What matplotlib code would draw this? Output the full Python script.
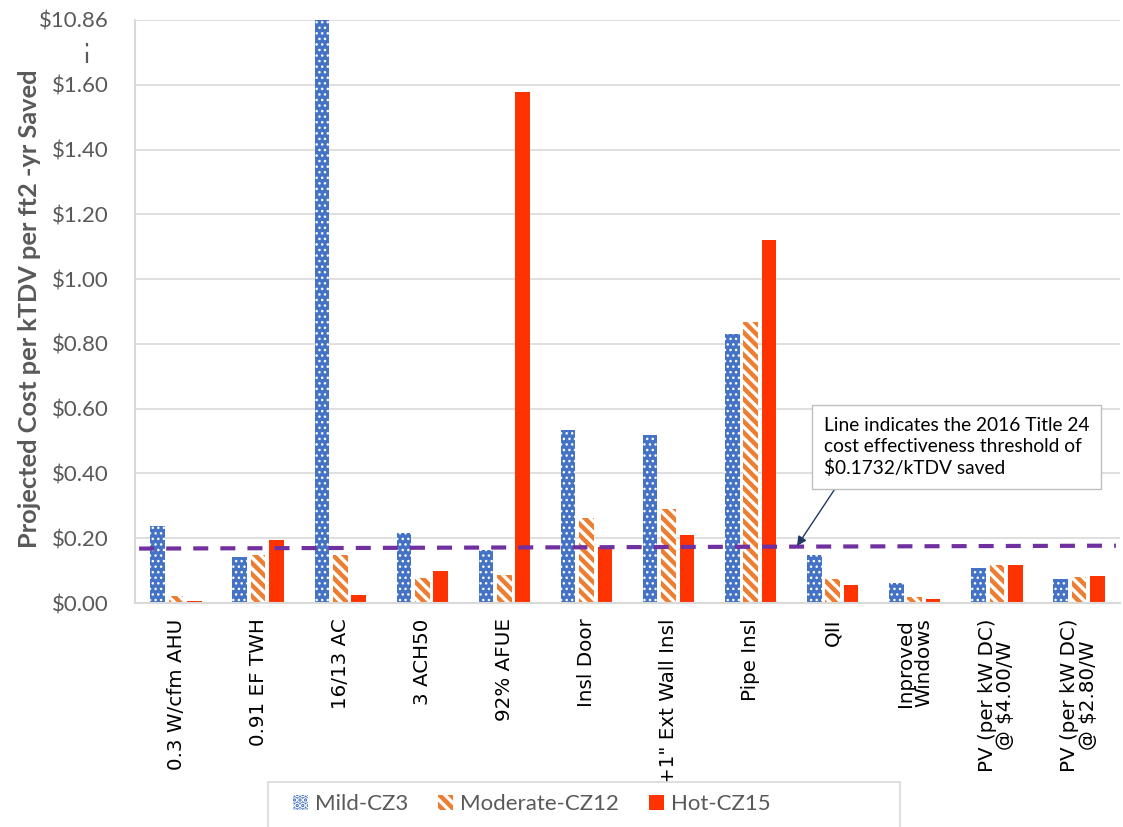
import matplotlib
matplotlib.use("Agg")
import matplotlib.pyplot as plt
import numpy as np
from matplotlib.lines import Line2D
from matplotlib.patches import Rectangle
from matplotlib import font_manager

categories = ["0.3 W/cfm AHU", "0.91 EF TWH", "16/13 AC", "3 ACH50", "92% AFUE",
              "Insl Door", "+1\" Ext Wall Insl", "Pipe Insl", "QII",
              "Inproved\nWindows", "PV (per kW DC)\n@ $4.00/W", "PV (per kW DC)\n@ $2.80/W"]
mild = [0.238, 0.142, 10.86, 0.216, 0.164, 0.534, 0.519, 0.831, 0.147, 0.061, 0.109, 0.075]
moderate = [0.022, 0.148, 0.148, 0.076, 0.086, 0.263, 0.290, 0.868, 0.073, 0.018, 0.117, 0.081]
hot = [0.005, 0.194, 0.025, 0.099, 1.578, 0.173, 0.210, 1.121, 0.056, 0.012, 0.118, 0.082]
series_names = ["Mild-CZ3", "Moderate-CZ12", "Hot-CZ15"]
threshold_ends = [0.168, 0.177]
ytick_vals = [0.0, 0.2, 0.4, 0.6, 0.8, 1.0, 1.2, 1.4, 1.6, 1.8]
ytick_labels = ["$0.00", "$0.20", "$0.40", "$0.60", "$0.80", "$1.00", "$1.20", "$1.40", "$1.60", "$10.86"]
annotation_text = "Line indicates the 2016 Title 24\ncost effectiveness threshold of\n$0.1732/kTDV saved"

plt.rcParams['font.family'] = ['Lato', 'DejaVu Sans']

installed = {f.name for f in font_manager.fontManager.ttflist}
if "Liberation Sans Narrow" in installed:
    leg_family, leg_size = "Liberation Sans Narrow", 19
else:
    leg_family, leg_size = "Lato", 16

fig = plt.figure(figsize=(11.23, 8.27), dpi=100)
ax = fig.add_axes([135/1123, 1-603/827, (1120-135)/1123, (603-20)/827])

x = np.arange(len(categories))
w = 0.178
off = 0.224
ymax = 1.8
clip = lambda v: [min(a, ymax) for a in v]

plt.rcParams['hatch.linewidth'] = 1.0
b1 = ax.bar(x - off, clip(mild), w, color="#4472C4", edgecolor="white", linewidth=0, hatch="...", zorder=2, label=series_names[0])
plt.rcParams['hatch.linewidth'] = 3.2
b2 = ax.bar(x, clip(moderate), w, color="white", edgecolor="#ED7D31", linewidth=0, hatch="\\\\\\", zorder=2, label=series_names[1])
b3 = ax.bar(x + off, clip(hot), w, color="#FF3300", linewidth=0, zorder=2, label=series_names[2])

ax.plot([-0.45, len(categories) - 0.55], threshold_ends, color="#7030A0", lw=3.0,
        dashes=(3.6, 2.9), zorder=3)

ax.set_xlim(-0.5, len(categories) - 0.5)
ax.set_ylim(0, ymax)
ax.set_yticks(ytick_vals)
ax.set_yticklabels(ytick_labels, fontsize=16, color="#595959")
ax.set_xticks(x)
ax.set_xticklabels(categories, rotation=90, fontsize=14.3, family="DejaVu Sans",
                   ha="center", va="top", color="black", linespacing=0.95)
ax.tick_params(axis="both", length=0)
ax.tick_params(axis="x", pad=11)
ax.tick_params(axis="y", pad=19)
ax.grid(axis="y", color="#D9D9D9", lw=1.2, zorder=0)
for s in ["top", "right"]:
    ax.spines[s].set_visible(False)
for s in ["left", "bottom"]:
    ax.spines[s].set_color("#D9D9D9")
    ax.spines[s].set_linewidth(1.5)

ax.set_ylabel("Projected Cost per kTDV per ft2 -yr Saved", fontsize=18.3, fontweight="bold",
              color="#595959")
ax.yaxis.set_label_coords(-0.095, 0.504)

# axis break marker
fig.add_artist(Line2D([87/1123, 87/1123], [1-43/827, 1-66/827], color="#595959", lw=1.6,
                      dashes=(1.5, 2.5, 5, 2)))

ax.annotate(annotation_text, xy=(797/1123, 1-546/827), xycoords="figure fraction",
            xytext=(824/1123, 1-447/827), textcoords="figure fraction",
            fontsize=13.8, ha="left", va="center", linespacing=1.3,
            bbox=dict(boxstyle="square,pad=0.62", fc="white", ec="#BFBFBF", lw=1),
            arrowprops=dict(arrowstyle="-|>", color="#1F3864", lw=1, shrinkA=0, shrinkB=0,
                            mutation_scale=14, relpos=(0.07, 0.0)),
            zorder=5)

# legend frame (extends below the figure edge as in the reference)
fig.add_artist(Rectangle((268/1123, -0.05), (900-268)/1123, 0.05 + (827-782)/827,
                         transform=fig.transFigure, fc="white", ec="#D9D9D9", lw=1.2))
fs_px = leg_size * 100 / 72
leg = fig.legend(handles=[b1, b2, b3], loc="center left", bbox_to_anchor=(293/1123, 1-804/827),
                 ncol=3, prop={"family": leg_family, "size": leg_size}, frameon=False,
                 handlelength=15/fs_px, handleheight=15/fs_px, handletextpad=7/fs_px,
                 columnspacing=30/fs_px, borderpad=0, borderaxespad=0, labelcolor="#595959")

fig.savefig("out.png", dpi=100)
